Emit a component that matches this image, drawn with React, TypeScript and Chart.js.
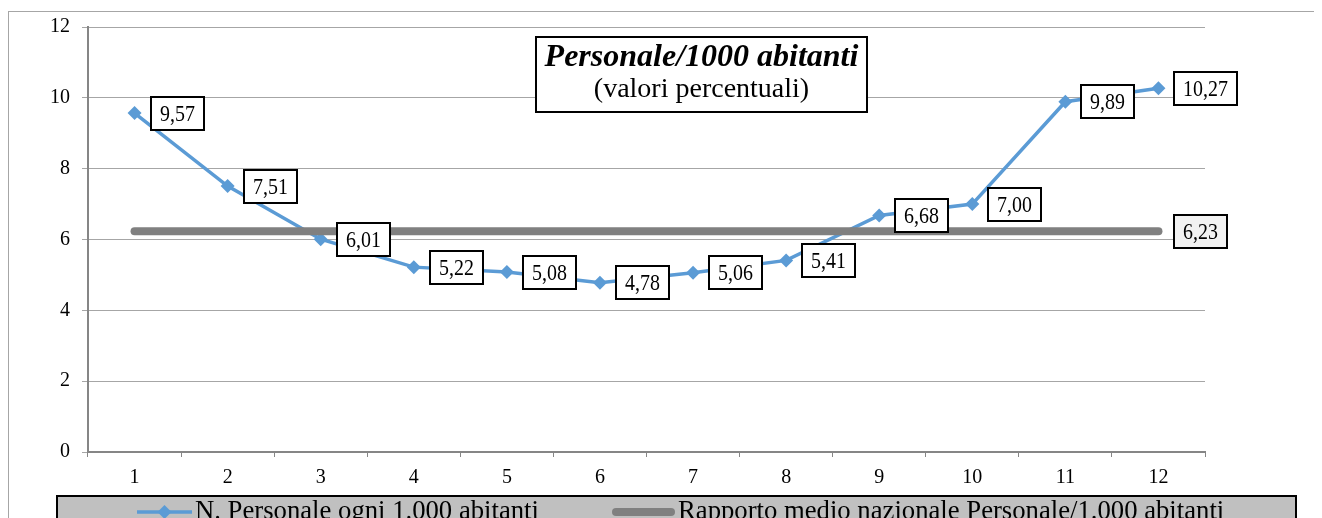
import React, { useEffect, useRef } from "react";
import { Chart, registerables } from "chart.js";

Chart.register(...registerables);

const categories = ["1", "2", "3", "4", "5", "6", "7", "8", "9", "10", "11", "12"];
const personale = [9.57, 7.51, 6.01, 5.22, 5.08, 4.78, 5.06, 5.41, 6.68, 7.0, 9.89, 10.27];
const mediaNazionale = [6.23, 6.23, 6.23, 6.23, 6.23, 6.23, 6.23, 6.23, 6.23, 6.23, 6.23, 6.23];
const yMin = 0;
const yMax = 12;
const yStep = 2;
const seriesLabels = ["N. Personale ogni 1.000 abitanti", "Rapporto medio nazionale Personale/1.000 abitanti"];
const titleText = "Personale/1000 abitanti";
const subtitleText = "(valori percentuali)";

const SERIF = '"Liberation Serif", "Times New Roman", serif';
const BLUE = "#5b9bd5";
const GRAY = "#808080";

const fmt = (v: number) => v.toFixed(2).replace(".", ",");

const overlay = {
  id: "overlay",
  beforeDraw(chart: any) {
    const ctx = chart.ctx;
    ctx.save();
    ctx.strokeStyle = "#a6a6a6";
    ctx.lineWidth = 1;
    ctx.strokeRect(0.5, 3.5, chart.width + 20, chart.height + 20);
    ctx.restore();
  },
  afterDraw(chart: any) {
    const ctx = chart.ctx;
    ctx.save();

    const SX = 0.83;
    const drawLabel = (x: number, y: number, text: string, fill: string) => {
      ctx.font = `24px ${SERIF}`;
      const tw = ctx.measureText(text).width * SX;
      const w = Math.round(tw + 18);
      const h = 33;
      const bx = Math.round(x + 16);
      const by = Math.round(y - h / 2);
      ctx.fillStyle = fill;
      ctx.fillRect(bx, by, w, h);
      ctx.strokeStyle = "#000";
      ctx.lineWidth = 2;
      ctx.strokeRect(bx, by, w, h);
      ctx.fillStyle = "#000";
      ctx.textAlign = "center";
      ctx.textBaseline = "middle";
      ctx.save();
      ctx.translate(bx + w / 2, by + h / 2 + 1);
      ctx.scale(SX, 1);
      ctx.fillText(text, 0, 0);
      ctx.restore();
    };
    const meta0 = chart.getDatasetMeta(0);
    meta0.data.forEach((p: any, i: number) => drawLabel(p.x, p.y, fmt(personale[i]), "#ffffff"));
    const meta1 = chart.getDatasetMeta(1);
    const last = meta1.data[meta1.data.length - 1];
    drawLabel(last.x, last.y, fmt(mediaNazionale[mediaNazionale.length - 1]), "#f2f2f2");

    ctx.fillStyle = "#fff";
    ctx.fillRect(528, 29, 331, 75);
    ctx.strokeStyle = "#000";
    ctx.lineWidth = 2;
    ctx.strokeRect(528, 29, 331, 75);
    ctx.fillStyle = "#000";
    ctx.textAlign = "center";
    ctx.textBaseline = "alphabetic";
    ctx.font = `italic bold 32px ${SERIF}`;
    ctx.fillText(titleText, 693.5, 58);
    ctx.font = `28px ${SERIF}`;
    ctx.fillText(subtitleText, 693.5, 89);

    ctx.fillStyle = "#c0c0c0";
    ctx.fillRect(49, 488, 1239, 40);
    ctx.strokeStyle = "#000";
    ctx.lineWidth = 2;
    ctx.strokeRect(49, 488, 1239, 40);

    const ly = 504;
    ctx.strokeStyle = BLUE;
    ctx.lineWidth = 3.5;
    ctx.beginPath();
    ctx.moveTo(129, ly);
    ctx.lineTo(184, ly);
    ctx.stroke();
    ctx.fillStyle = BLUE;
    ctx.beginPath();
    ctx.moveTo(156.5, ly - 7);
    ctx.lineTo(163.5, ly);
    ctx.lineTo(156.5, ly + 7);
    ctx.lineTo(149.5, ly);
    ctx.closePath();
    ctx.fill();

    ctx.strokeStyle = GRAY;
    ctx.lineWidth = 8;
    ctx.lineCap = "round";
    ctx.beginPath();
    ctx.moveTo(608, ly);
    ctx.lineTo(663, ly);
    ctx.stroke();
    ctx.lineCap = "butt";

    ctx.fillStyle = "#000";
    ctx.font = `26.7px ${SERIF}`;
    ctx.textAlign = "left";
    ctx.textBaseline = "alphabetic";
    ctx.fillText(seriesLabels[0], 187, 511);
    ctx.fillText(seriesLabels[1], 670, 511);

    ctx.restore();
  },
};

export default function App() {
  const ref = useRef<HTMLCanvasElement | null>(null);
  useEffect(() => {
    document.documentElement.style.overflow = "hidden";
    document.body.style.overflow = "hidden";
    if (!ref.current) return;
    const chart = new Chart(ref.current, {
      type: "line",
      data: {
        labels: categories,
        datasets: [
          {
            label: seriesLabels[0],
            data: personale,
            borderColor: BLUE,
            backgroundColor: BLUE,
            borderWidth: 3.5,
            tension: 0,
            pointStyle: "rectRot",
            pointRadius: 7,
            pointBorderWidth: 0,
            pointBackgroundColor: BLUE,
            order: 2,
          },
          {
            label: seriesLabels[1],
            data: mediaNazionale,
            borderColor: GRAY,
            backgroundColor: GRAY,
            borderWidth: 8,
            borderCapStyle: "round",
            tension: 0,
            pointRadius: 0,
            order: 1,
          },
        ],
      },
      options: {
        responsive: false,
        animation: false,
        events: [],
        layout: { padding: { left: 0, top: 19, right: 117, bottom: 0 } },
        plugins: { legend: { display: false }, title: { display: false }, tooltip: { enabled: false } },
        scales: {
          x: {
            type: "category",
            offset: true,
            grid: { offset: true, drawOnChartArea: false, drawTicks: true, tickLength: 5, color: "#868686", lineWidth: 1 },
            border: { display: true, color: "#868686", width: 2 },
            ticks: { color: "#000", font: { family: SERIF, size: 20 }, padding: 9, maxRotation: 0 },
            afterFit: (s: any) => {
              s.height = 66;
              s.paddingLeft = 0;
              s.paddingRight = 0;
            },
          },
          y: {
            min: yMin,
            max: yMax,
            ticks: { stepSize: yStep, color: "#000", font: { family: SERIF, size: 20 }, padding: 12 },
            grid: { color: "#a6a6a6", lineWidth: 1, tickLength: 6, drawTicks: true },
            border: { display: true, color: "#868686", width: 2 },
            afterFit: (s: any) => {
              s.width = 80;
              s.paddingTop = 0;
              s.paddingBottom = 0;
            },
          },
        },
      },
      plugins: [overlay],
    });
    return () => chart.destroy();
  }, []);
  return <canvas ref={ref} width={1314} height={510} style={{ display: "block" }} />;
}
